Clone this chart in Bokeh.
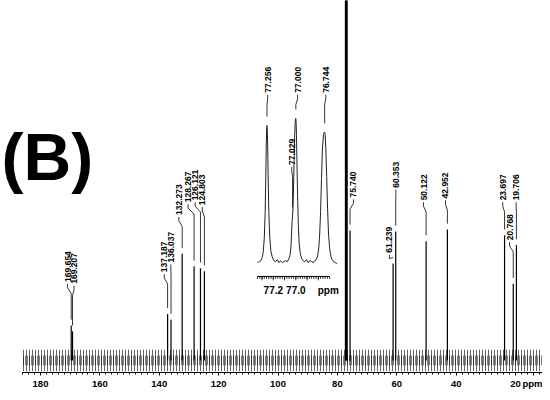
import numpy as np
from bokeh.plotting import figure
from bokeh.models import Range1d, Label, FixedTicker
from bokeh.embed import file_html
from bokeh.resources import INLINE
from bokeh.core.properties import value

# ---------------- data ----------------
# main 13C peaks (ppm) and their heights (arbitrary units, baseline = 0)
peak_ppm = [169.654, 169.207, 137.187, 136.037, 132.273, 128.267, 126.121, 124.803,
            75.740, 61.239, 60.353, 50.122, 42.952, 23.697, 20.768, 19.706]
peak_int = [36, 30, 48, 42, 110, 97, 95, 92, 134, 100, 133, 123, 135, 129, 79, 119]
peak_txt = ["169.654", "169.207", "137.187", "136.037", "132.273", "128.267", "126.121", "124.803",
            "75.740", "61.239", "60.353", "50.122", "42.952", "23.697", "20.768", "19.706"]
# where each peak label sits (ppm) and the height of its lower end
label_ppm = [170.9, 168.7, 138.3, 136.1, 133.4, 130.3, 127.9, 125.5,
             74.6, 62.5, 60.3, 51.0, 43.6, 24.3, 22.0, 19.8]
label_base = [81, 79, 91, 101, 150, 163, 165, 160, 168, 111, 178, 165, 167, 165, 124, 165]

# CDCl3 triplet (off scale in the main spectrum)
solvent_ppm = [77.256, 77.000, 76.744]
solvent_int = [1000, 1000, 1000]

# inset: expanded CDCl3 region
inset_ppm = [77.340, 77.325, 77.310, 77.300, 77.290, 77.280, 77.272, 77.266, 77.262, 77.258,
             77.256, 77.254, 77.250, 77.246, 77.240, 77.232, 77.222, 77.210, 77.195, 77.180,
             77.165, 77.150, 77.135, 77.120, 77.105, 77.090, 77.075, 77.062, 77.052, 77.044,
             77.038, 77.033, 77.029, 77.024, 77.018, 77.012, 77.006, 77.002, 77.000, 76.998,
             76.994, 76.990, 76.984, 76.978, 76.970, 76.960, 76.948, 76.935, 76.920, 76.905,
             76.890, 76.875, 76.860, 76.845, 76.832, 76.818, 76.806, 76.796, 76.788, 76.780,
             76.772, 76.764, 76.754, 76.748, 76.744, 76.740, 76.734, 76.726, 76.718, 76.710,
             76.700, 76.690, 76.678, 76.665, 76.650, 76.635]
inset_int = [3, 4, 5, 8, 13, 28, 55, 95, 125, 140,
             142, 140, 122, 92, 55, 30, 15, 9, 5, 4,
             6, 3, 5, 3, 4, 5, 4, 7, 10, 18,
             32, 45, 50, 62, 90, 125, 145, 149, 149, 147,
             132, 105, 70, 42, 22, 12, 7, 5, 4, 6,
             3, 5, 4, 3, 5, 6, 10, 18, 32, 55,
             88, 118, 133, 135, 135, 133, 120, 90, 58, 33,
             18, 10, 6, 4, 3, 2]
inset_peak_ppm = [77.256, 77.029, 77.000, 76.744]
inset_peak_int = [142, 50, 149, 135]
inset_peak_txt = ["77.256", "77.029", "77.000", "76.744"]
inset_label_ppm = [77.250, 77.036, 76.984, 76.734]
inset_label_base = [175, 102, 175, 175]
inset_tick_vals = [77.2, 77.0]
inset_tick_txt = ["77.2", "77.0"]

# main axis ticks
main_ticks = [180, 160, 140, 120, 100, 80, 60, 40, 20]
unit_tick = 13.9          # position of the "ppm" unit label on the axis
AX_START, AX_END = 186.06, 10.92

# ---------------- figure ----------------
X0 = 193.47
p = figure(width=542, height=392, x_range=Range1d(X0, AX_END), y_range=Range1d(-12.4, 371),
           output_backend="svg", toolbar_location=None, y_axis_location=None,
           min_border_left=0, min_border_right=0, min_border_top=0, min_border_bottom=20)
p.grid.visible = False
p.outline_line_color = None
p.background_fill_color = "white"

xa = p.xaxis[0]
xa.ticker = FixedTicker(ticks=main_ticks + [unit_tick],
                        minor_ticks=list(range(186, 10, -2)))
xa.major_label_overrides = {unit_tick: "ppm"}
xa.bounds = (AX_END, AX_START)
xa.major_label_text_font = "Liberation Sans"
xa.major_label_text_font_style = "bold"
xa.major_label_text_font_size = "9.5px"
xa.major_label_text_color = "black"
xa.major_label_standoff = 2
xa.major_tick_out = 3
xa.major_tick_in = 0
xa.minor_tick_out = 2
xa.minor_tick_in = 0
xa.axis_line_color = "black"
xa.major_tick_line_color = "black"
xa.minor_tick_line_color = "black"

# baseline noise band (drawn as a hatched band)
p.varea(x=[AX_START, AX_END], y1=[-11, -11], y2=[11, 11], fill_alpha=0,
        hatch_pattern="vertical_line", hatch_color="#555555", hatch_scale=3, hatch_weight=0.9)
p.varea(x=[AX_START, AX_END], y1=[-5, -5], y2=[5, 5], fill_alpha=0,
        hatch_pattern="vertical_line", hatch_color="#000000", hatch_scale=2, hatch_weight=1)

# peaks
p.segment(x0=peak_ppm, y0=0, x1=peak_ppm, y1=peak_int, line_color="black", line_width=1.2)
p.segment(x0=solvent_ppm, y0=0, x1=solvent_ppm, y1=solvent_int, line_color="black", line_width=1.4)


def leaders(px, py, lx, lb, gap):
    xs, ys = [], []
    for a, b, c, d in zip(px, py, lx, lb):
        top = d - 2
        b1 = d - 6
        b2 = max(d - 12, b + gap)
        end = b + gap
        xs.append([c, c, a, a])
        ys.append([top, b1, b2, end])
    return xs, ys


lx, ly = leaders(peak_ppm, peak_int, label_ppm, label_base, 6)
p.multi_line(lx, ly, line_color="black", line_width=0.8)
p.text(x=label_ppm, y=label_base, text=peak_txt, angle=np.pi / 2,
       text_align="left", text_baseline="middle", text_color="black",
       text_font=value("Liberation Sans"), text_font_style="bold", text_font_size="8.5px")

# ---------------- inset ----------------
ins = p.subplot(x_source=Range1d(76.63, 77.34), y_source=Range1d(0, 150),
                x_target=Range1d(79.97, 106.9), y_target=Range1d(97.8, 250.4))
ins.line(inset_ppm, inset_int, line_color="#222222", line_width=1)
ilx, ily = leaders(inset_peak_ppm, inset_peak_int, inset_label_ppm, inset_label_base, 9)
ins.multi_line(ilx, ily, line_color="black", line_width=0.8)
ins.text(x=inset_label_ppm, y=inset_label_base, text=inset_peak_txt, angle=np.pi / 2,
         text_align="left", text_baseline="middle", text_color="black",
         text_font=value("Liberation Sans"), text_font_style="bold", text_font_size="8.5px")
# inset axis
ins.segment(x0=[77.34], y0=[-11], x1=[76.70], y1=[-11], line_color="black", line_width=1)
minor = np.round(np.arange(76.70, 77.345, 0.02), 3)
ins.segment(x0=minor, y0=-11, x1=minor, y1=-13.5, line_color="black", line_width=0.8)
major = [77.3, 77.2, 77.1, 77.0, 76.9, 76.8]
ins.segment(x0=major, y0=-11, x1=major, y1=-15, line_color="black", line_width=0.8)
ins.text(x=inset_tick_vals, y=-25, text=inset_tick_txt, text_align="center",
         text_baseline="middle", text_color="black", text_font=value("Liberation Sans"),
         text_font_style="bold", text_font_size="10px")
ins.text(x=[76.712], y=[-25], text=["ppm"], text_align="center", text_baseline="middle",
         text_color="black", text_font=value("Liberation Sans"), text_font_style="bold",
         text_font_size="10px")

# ---------------- panel letter ----------------
p.add_layout(Label(x=193.1, y=210, text="(B)", text_font="Liberation Sans",
                   text_font_style="bold", text_font_size="66px", text_color="black",
                   text_align="left", text_baseline="alphabetic"))

open("out.html", "w").write(file_html(p, INLINE))
